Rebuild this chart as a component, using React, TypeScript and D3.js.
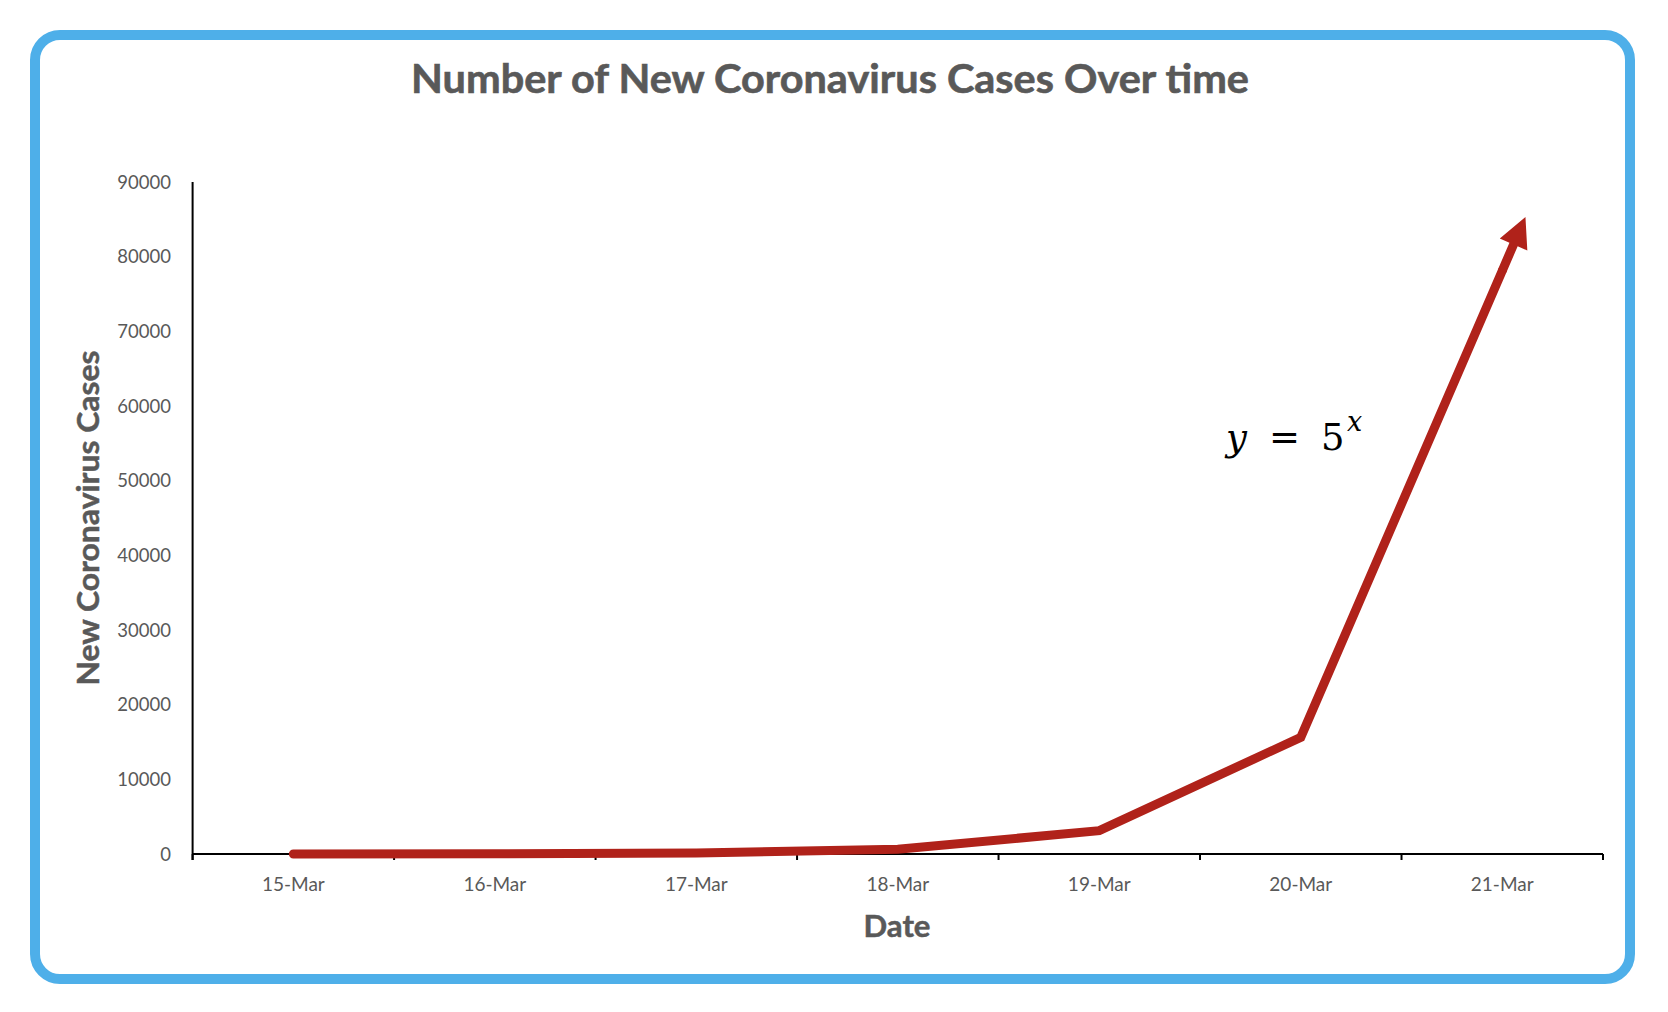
import React from "react";
import * as d3 from "d3";

const dates = ["15-Mar", "16-Mar", "17-Mar", "18-Mar", "19-Mar", "20-Mar", "21-Mar"];
const cases = [5, 25, 125, 625, 3125, 15625, 78125];
const yTicks = [0, 10000, 20000, 30000, 40000, 50000, 60000, 70000, 80000, 90000];

const title = "Number of New Coronavirus Cases Over time";
const xTitle = "Date";
const yTitle = "New Coronavirus Cases";

const W = 1668;
const H = 1012;
const GRAY = "#595959";
const RED = "#B0221A";
const BLUE = "#4EAFE9";
const FONT = "Lato, 'Open Sans', sans-serif";
const MATH = "'DejaVu Serif', 'Liberation Serif', serif";

export default function App() {
  const x = d3.scaleBand<string>().domain(dates).range([192.6, 1603]).padding(0);
  const y = d3.scaleLinear().domain([0, 90000]).range([854, 182]);
  const bw = x.bandwidth();
  const pts: [number, number][] = dates.map((d, i) => [x(d)! + bw / 2, y(cases[i])]);
  const linePath = d3.line()(pts) || "";
  const boundaries = [...dates.map((d) => x(d)!), x.range()[1]];

  return (
    <svg
      width={W}
      height={H}
      style={{ position: "absolute", left: 0, top: 0, display: "block", background: "#fff" }}
    >
      <defs>
        <marker
          id="arrow"
          markerUnits="userSpaceOnUse"
          orient="auto"
          refX={0}
          refY={0}
          viewBox="-2 -17 64 34"
          markerWidth={64}
          markerHeight={34}
          overflow="visible"
        >
          <path d="M0,-4.5 L28.5,-4.5 L28.5,-15 L58.5,0 L28.5,15 L28.5,4.5 L0,4.5 Z" fill={RED} />
        </marker>
      </defs>
      <rect x={0} y={0} width={W} height={H} fill="#fff" />
      <rect x={35} y={35} width={1595} height={944} rx={25} ry={25} fill="#fff" stroke={BLUE} strokeWidth={10} />

      <text
        x={830}
        y={93.3}
        textAnchor="middle"
        fontFamily={FONT}
        fontWeight={700}
        fontSize={39.5}
        fill={GRAY}
        textLength={838}
        lengthAdjust="spacingAndGlyphs"
        stroke={GRAY}
        strokeWidth={0.6}
      >
        {title}
      </text>

      {/* y tick labels */}
      {yTicks.map((t) => (
        <text
          key={t}
          x={171}
          y={y(t) + 6.6}
          textAnchor="end"
          fontFamily={FONT}
          fontSize={18.5}
          fill={GRAY}
        >
          {t}
        </text>
      ))}

      {/* x tick labels */}
      {dates.map((d) => (
        <text
          key={d}
          x={x(d)! + bw / 2}
          y={891}
          textAnchor="middle"
          fontFamily={FONT}
          fontSize={19}
          fill={GRAY}
        >
          {d}
        </text>
      ))}

      {/* axes */}
      <line x1={192.6} x2={192.6} y1={y(90000)} y2={860} stroke="#000" strokeWidth={2} />
      <line x1={192.6} x2={x.range()[1]} y1={y(0)} y2={y(0)} stroke="#000" strokeWidth={2} />
      {boundaries.map((b, i) => (
        <line key={i} x1={b} x2={b} y1={y(0)} y2={860} stroke="#000" strokeWidth={2} />
      ))}

      {/* axis titles */}
      <text
        x={897}
        y={936.7}
        textAnchor="middle"
        fontFamily={FONT}
        fontWeight={700}
        fontSize={30.5}
        fill={GRAY}
        textLength={67}
        lengthAdjust="spacingAndGlyphs"
        stroke={GRAY}
        strokeWidth={0.5}
      >
        {xTitle}
      </text>
      <text
        transform={`translate(98.5,518) rotate(-90)`}
        textAnchor="middle"
        fontFamily={FONT}
        fontWeight={700}
        fontSize={30.5}
        fill={GRAY}
        textLength={335}
        lengthAdjust="spacingAndGlyphs"
        stroke={GRAY}
        strokeWidth={0.5}
      >
        {yTitle}
      </text>

      {/* data line */}
      <path
        d={linePath}
        fill="none"
        stroke={RED}
        strokeWidth={9}
        strokeLinecap="round"
        strokeLinejoin="miter"
        markerEnd="url(#arrow)"
      />

      {/* formula */}
      <text fontFamily={MATH} fontSize={37} fill="#000">
        <tspan x={1226} y={450} fontStyle="italic">y</tspan>
        <tspan x={1269} y={450}>=</tspan>
        <tspan x={1321} y={450}>5</tspan>
        <tspan x={1347} y={431} fontStyle="italic" fontSize={27}>x</tspan>
      </text>
    </svg>
  );
}
